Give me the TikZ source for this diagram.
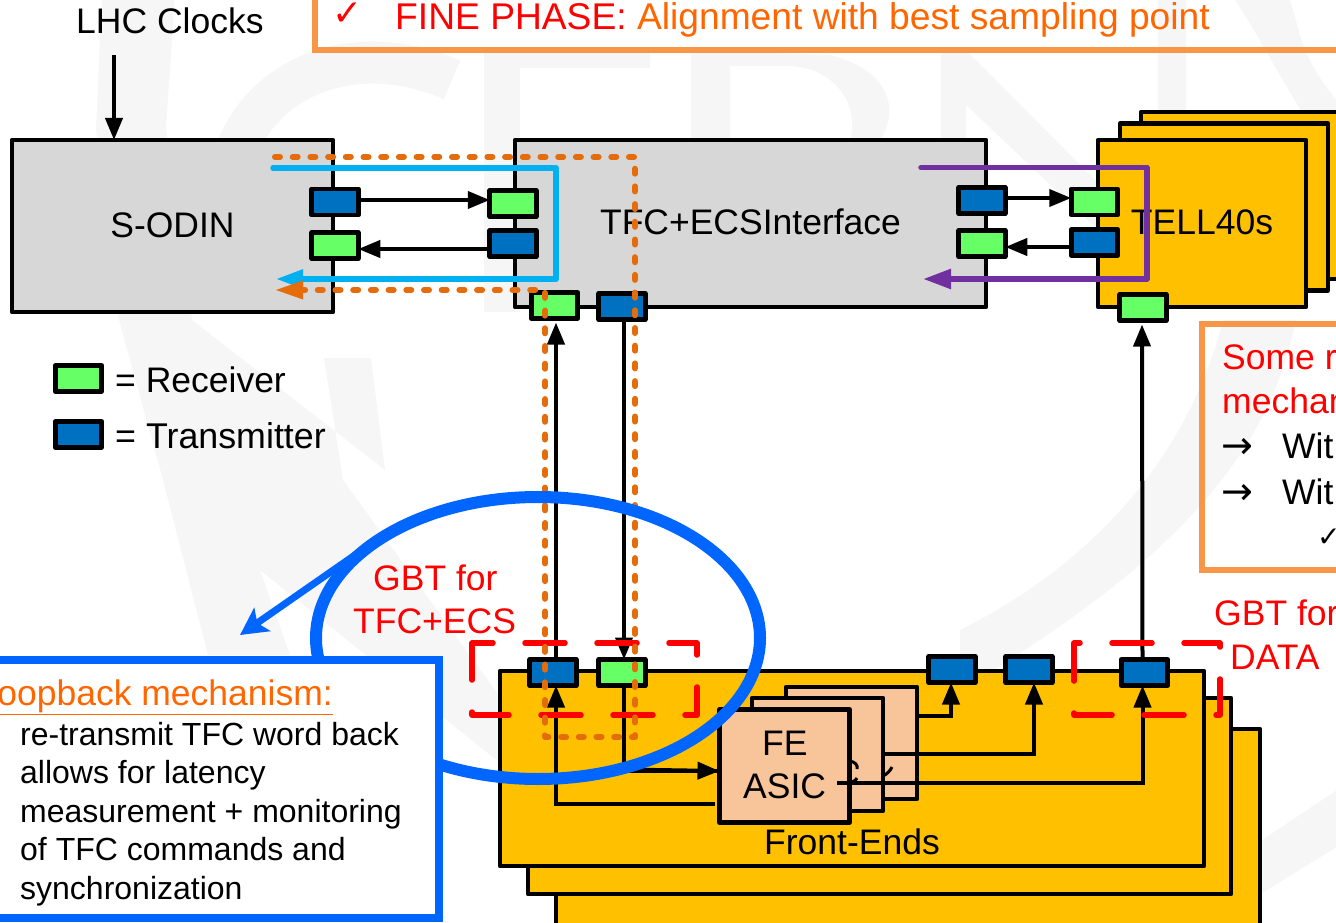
\documentclass[tikz,border=0pt]{standalone}
\usepackage{fontspec}
\setmainfont{Liberation Sans}
\newfontfamily\dvu{DejaVu Sans}
\usetikzlibrary{arrows.meta}
\definecolor{wm}{HTML}{F6F6F6}
\definecolor{boxgray}{HTML}{D7D7D7}
\definecolor{rxgreen}{HTML}{66FF66}
\definecolor{txblue}{HTML}{0070C0}
\definecolor{gold}{HTML}{FFC000}
\definecolor{salmon}{HTML}{F8C49A}
\definecolor{cyanline}{HTML}{00B0F0}
\definecolor{orangedash}{HTML}{E46C0A}
\definecolor{orangebox}{HTML}{F79646}
\definecolor{orangetext}{HTML}{FF6600}
\definecolor{purpleline}{HTML}{7030A0}
\definecolor{loopblue}{HTML}{0066FF}
\newcommand{\fz}[1]{\fontsize{#1}{#1}\selectfont}
\tikzset{
  x=1pt,y=-1pt,
  bigbox/.style={draw=black,line width=4.3pt,line join=round,inner sep=0pt,outer sep=0pt,font=\fz{35.5},text height=22pt,text depth=0pt},
  sbox/.style={draw=black,line width=4.6pt,line join=round,inner sep=0pt,outer sep=0pt,minimum width=46.5pt,minimum height=26pt},
  rxbox/.style={sbox,fill=rxgreen},
  txbox/.style={sbox,fill=txblue},
  conn/.style={draw=black,line width=4pt,-{Triangle[length=22pt,width=17pt]}},
  plainconn/.style={draw=black,line width=4pt},
  txt/.style={inner sep=0pt,anchor=base west,font=\fz{35.5}},
  bodytxt/.style={inner sep=0pt,anchor=base west,font=\fz{32}},
  reddash/.style={draw=red,line width=5.5pt,line cap=round,line join=round,dash pattern=on 40pt off 32pt},
  orangedashed/.style={draw=orangedash,line width=6pt,line cap=round,line join=round,dash pattern=on 5pt off 12.7pt},
  loopline/.style={line width=5.5pt,line join=round,line cap=round},
  orangeframe/.style={draw=orangebox,line width=6pt},
}
\begin{document}
\begin{tikzpicture}
\useasboundingbox (0,0) rectangle (1336,923);
\clip (0,0) rectangle (1336,923);
% watermark
\fill[wm] (102,-5) -- (96,128) -- (119,320) -- (163,480) -- (208,655) -- (290,655) -- (260,570) -- (500,763) -- (500,697) -- (343,480) -- (324,358) -- (371,358) -- (385,470) -- (192,320) -- (166,128) -- (175,-5) -- cycle;
\draw[wm,line width=42pt] (452,80) .. controls (340,30) and (215,90) .. (225,230);
\fill[wm] (484,50) rectangle (520,312);
\fill[wm] (484,50) rectangle (650,68);
\fill[wm] (691,55) rectangle (730,140);
\fill[wm] (691,50) -- (830,55) .. controls (890,70) and (900,110) .. (880,140) -- (850,140) .. controls (860,105) and (835,68) .. (790,66) -- (691,66) -- cycle;
\fill[wm] (941,50) -- (966,50) -- (1098,183) -- (1098,230) -- (966,105) -- (966,140) -- (941,140) -- cycle;
\fill[wm] (1158,0) rectangle (1186,140);
\fill[wm] (1235,0) .. controls (1262,40) and (1285,90) .. (1345,180) -- (1345,110) .. controls (1300,60) and (1300,30) .. (1290,0) -- cycle;
\fill[wm] (1296,320) .. controls (1270,450) and (1180,560) .. (960,690) -- (960,630) .. controls (1100,560) and (1190,450) .. (1223,320) -- cycle;
\fill[wm] (1262,840) -- (1340,788) -- (1340,845) -- (1262,893) -- cycle;

% top orange frame
\draw[orangeframe] (315,-10) -- (315,50) -- (1345,50);
\node[inner sep=0pt,anchor=base west,font=\dvu\fz{36},text=red] (chk) at (332,26) {✓};
\node[txt,text=red,font=\fz{37.2}] (fine) at (395,30) {FINE PHASE: \textcolor{orangetext}{Alignment with best sampling point}};
\node[txt] (lhc) at (76,34) {LHC Clocks};

% top boxes
\node[bigbox,fill=boxgray,minimum width=321pt,minimum height=172pt] (sodin) at (172.5,226) {S-ODIN};
\node[bigbox,fill=boxgray,minimum width=471pt,minimum height=167pt] (tfc) at (750.5,223.5) {TFC+ECSInterface};
\node[bigbox,fill=gold,minimum width=208pt,minimum height=167pt] (tellc) at (1245,195.5) {};
\node[bigbox,fill=gold,minimum width=208pt,minimum height=167pt] (tellb) at (1224,207) {};
\node[bigbox,fill=gold,minimum width=208pt,minimum height=167pt] (tella) at (1202,223.5) {TELL40s};
\draw[conn] (114,55) coordinate (clk) -- (sodin.north -| clk);

% front-ends
\node[bigbox,fill=gold,minimum width=704pt,minimum height=200pt] (fec) at (908,829) {};
\node[bigbox,fill=gold,minimum width=703pt,minimum height=196pt] (feb) at (879.5,796) {};
\node[bigbox,fill=gold,minimum width=704pt,minimum height=195pt] (fea) at (852,768.5) {};
\node[txt] (felabel) at (764,854) {Front-Ends};
\node[bigbox,fill=salmon,minimum width=131pt,minimum height=112pt] (asicc) at (851.5,743) {};
\node[bigbox,fill=salmon,minimum width=131pt,minimum height=113pt] (asicb) at (817.5,754.5) {};
\node[bigbox,fill=salmon,minimum width=130pt,minimum height=113pt] (asica) at (784.5,766) {};
\node[txt] (fetext) at (762,755) {FE};
\node[txt] (asictext) at (743,798) {ASIC};

% small boxes
\node[txbox] (sTx) at (335,202) {};
\node[rxbox] (sRx) at (335,245.5) {};
\node[rxbox] (tRx) at (513,203.5) {};
\node[txbox] (tTx) at (513,243.5) {};
\node[rxbox] (bRx) at (554.5,305.5) {};
\node[txbox] (bTx) at (622,306.5) {};
\node[txbox] (rTx) at (982,200.5) {};
\node[rxbox] (rRx) at (982,243.5) {};
\node[rxbox] (lRx) at (1094.5,202) {};
\node[txbox] (lTx) at (1094.5,242.5) {};
\node[rxbox] (dRx) at (1143,307.5) {};
\node[txbox] (feTx) at (553,672.5) {};
\node[rxbox] (feRx) at (622,672.5) {};
\node[txbox] (d1Tx) at (952,669.5) {};
\node[txbox] (d2Tx) at (1029,669.5) {};
\node[txbox] (d3Tx) at (1144.5,672.5) {};

% connectors
\draw[conn] ([yshift=2pt]sTx.east) -- ([yshift=3.5pt]tRx.west);
\draw[conn] ([yshift=-5.5pt]tTx.west) -- ([yshift=-3.5pt]sRx.east);
\draw[conn] ([yshift=2.5pt]rTx.east) -- ([yshift=4pt]lRx.west);
\draw[conn] ([yshift=-4.5pt]lTx.west) -- ([yshift=-3.5pt]rRx.east);
\draw[conn,shorten >=4pt] ([xshift=3pt]feTx.north) -- ([xshift=1.5pt]bRx.south);
\draw[conn] ([xshift=2pt]bTx.south) -- ([xshift=2pt]feRx.north);
\draw[conn,shorten >=4pt] ([xshift=-2pt]d3Tx.north) -- ([xshift=-1pt]dRx.south);
\draw[plainconn,line join=round] ([xshift=2pt]feRx.south) |- ([yshift=-5pt]asica.west);
\draw[conn] ([xshift=2pt]feRx.south) ++(0,84) -- ([yshift=-5pt]asica.west);
\draw[conn,rounded corners=0pt] (715,804) coordinate (back) -| ([xshift=3pt]feTx.south);
\draw[conn] (asicc.east |- 0,716) coordinate (o1) -| ([xshift=-1pt]d1Tx.south);
\draw[conn] (asicb.east |- 0,754) coordinate (o2) -| ([xshift=5pt]d2Tx.south);
\draw[conn] (837,783) coordinate (o3) -| ([xshift=-2pt]d3Tx.south);
\draw[line width=3pt] (850,761) .. controls (855,762) and (858,765) .. (857,769);
\draw[line width=3pt] (852,782) .. controls (855,781) and (856,780) .. (857,778);
\draw[line width=3pt] (892,767) .. controls (890,771) and (887,774) .. (883,776);

% legend
\node[rxbox] (legRx) at (78.5,378.5) {};
\node[txbox] (legTx) at (78.5,434.5) {};
\node[txt] (legRxT) at (115,392) {= Receiver};
\node[txt,font=\fz{35.8}] (legTxT) at (115,448) {= Transmitter};

% red dashed groups
\draw[reddash] (472,662) -- (472,643) -- (697,643) -- (697,715) -- (472,715) -- cycle;
\draw[reddash] (1074,677) -- (1074,643) -- (1220,643) -- (1220,715) -- (1074,715) -- cycle;
\node[txt,text=red] (gbt1) at (373,590) {GBT for};
\node[txt,text=red] (gbt2) at (353,633) {TFC+ECS};
\node[txt,text=red] (gbt3) at (1214,625) {GBT for};
\node[txt,text=red] (gbt4) at (1230,669) {DATA};

% loops
\draw[cyanline,loopline,-{Triangle[length=27pt,width=18pt]}] (273,168) coordinate (cy1) -- (556,168) -- (556,279) -- (276,279) coordinate (cy2);
\draw[purpleline,loopline,-{Triangle[length=28pt,width=19pt]}] (921,167.5) coordinate (pu1) -- (1147,167.5) -- (1147,279) -- (923,279) coordinate (pu2);
\draw[orangedashed] (275,157) coordinate (or1) -- (635,157) -- (635,737) -- (545,737) -- (545,290) -- (303,290) coordinate (or2);
\fill[orangedash] (303,280.5) -- (276,290) -- (303,299.5) -- cycle;

% loopback ellipse + arrow
\draw[loopblue,line width=12pt] (538,638) ellipse [x radius=222, y radius=141];
\draw[loopblue,line width=7pt,-{Stealth[length=27pt,width=28pt,inset=6pt]}] (355,555) coordinate (ar1) -- (240,635) coordinate (ar2);

% loopback box
\node[draw=loopblue,fill=white,line width=8pt,inner sep=0pt,outer sep=0pt,minimum width=470pt,minimum height=258pt] (loop) at (204,789) {};
\node[inner sep=0pt,anchor=base east,font=\fz{35.5},text=orangetext] (loophead) at (333,705) {\underline{Loopback mechanism:}};
\node[bodytxt] (l1) at (20,745) {re-transmit TFC word back};
\node[bodytxt] (l2) at (20,783) {allows for latency};
\node[bodytxt] (l3) at (20,822) {measurement + monitoring};
\node[bodytxt] (l4) at (20,860) {of TFC commands and};
\node[bodytxt] (l5) at (20,899) {synchronization};

% right orange frame
\draw[orangeframe] (1345,324) -- (1202,324) -- (1202,570) -- (1345,570);
\node[txt,text=red] (some) at (1222,369) {Some r};
\node[txt,text=red] (mech) at (1222,413) {mechan};
\node[inner sep=0pt,anchor=base west,font=\dvu\fz{38}] (arr1) at (1221,458) {→};
\node[txt] (wit1) at (1282,458) {Wit};
\node[inner sep=0pt,anchor=base west,font=\dvu\fz{38}] (arr2) at (1221,504) {→};
\node[txt] (wit2) at (1282,504) {Wit};
\node[inner sep=0pt,anchor=base west,font=\dvu\fz{28}] (chk2) at (1317,546) {✓};
\end{tikzpicture}
\end{document}
